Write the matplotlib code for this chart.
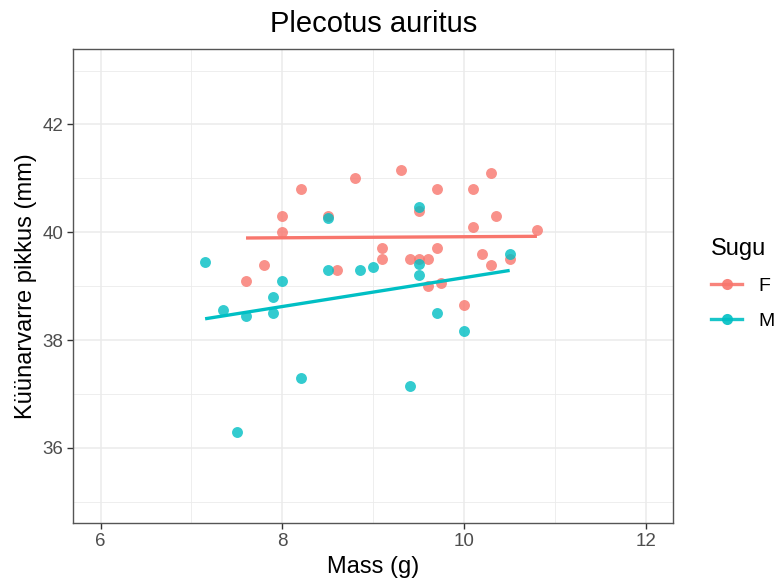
import numpy as np
import matplotlib
matplotlib.use("Agg")
from matplotlib import pyplot as plt
from matplotlib.lines import Line2D

plt.rcParams['font.family'] = ['Liberation Sans', 'DejaVu Sans']

# emased (F)
f_mass = [7.6, 7.8, 8.0, 8.0, 8.2, 8.5, 8.6, 8.8, 9.3, 10.3, 9.7, 10.1, 9.5, 10.35,
          10.1, 10.8, 9.1, 9.1, 9.7, 10.2, 10.5, 9.4, 9.5, 9.6, 10.3, 9.6, 9.75, 10.0]
f_arm = [39.1, 39.4, 40.3, 40.0, 40.8, 40.3, 39.3, 41.0, 41.15, 41.1, 40.8, 40.8, 40.4, 40.3,
         40.1, 40.05, 39.7, 39.5, 39.7, 39.6, 39.5, 39.5, 39.5, 39.5, 39.4, 39.0, 39.05, 38.65]
# isased (M)
m_mass = [7.15, 7.35, 7.5, 7.6, 7.9, 7.9, 8.0, 8.2, 8.5, 8.5, 8.85, 9.0, 9.4, 9.5,
          9.5, 9.5, 9.7, 10.0, 10.5]
m_arm = [39.45, 38.55, 36.3, 38.45, 38.8, 38.5, 39.1, 37.3, 40.27, 39.3, 39.3, 39.35, 37.15, 40.47,
         39.42, 39.2, 38.5, 38.17, 39.6]

groups = ['F', 'M']
colors = {'F': '#F8766D', 'M': '#00BFC4'}
data = {'F': (f_mass, f_arm), 'M': (m_mass, m_arm)}

W, H = 779, 580
fig = plt.figure(figsize=(W / 100, H / 100), dpi=100)
# paneel pikslites: x 73..673, y 49..523
ax = fig.add_axes([73.3 / W, 1 - 523.3 / H, 600 / W, 474.3 / H])

for g in groups:
    x = np.array(data[g][0])
    y = np.array(data[g][1])
    ax.scatter(x, y, s=62, color=colors[g], alpha=0.8, linewidths=0, zorder=3)
    k, b = np.polyfit(x, y, 1)
    xs = np.array([x.min(), x.max()])
    ax.plot(xs, k * xs + b, color=colors[g], lw=2.4, zorder=4, solid_capstyle='butt')

ax.set_xlim(5.7, 12.3)
ax.set_ylim(34.6, 43.4)
ax.set_xticks([6, 8, 10, 12])
ax.set_yticks([36, 38, 40, 42])
ax.set_xticks([7, 9, 11], minor=True)
ax.set_yticks([35, 37, 39, 41, 43], minor=True)
ax.grid(True, which='major', color='#EBEBEB', lw=1.1, zorder=0)
ax.grid(True, which='minor', color='#EBEBEB', lw=0.6, zorder=0)
ax.set_axisbelow(True)
ax.tick_params(which='major', direction='out', length=4.3, width=1.0, color='#333333',
               labelcolor='#4D4D4D', labelsize=13.5, pad=3)
ax.tick_params(which='minor', length=0)
for s in ax.spines.values():
    s.set_color('#555555')
    s.set_linewidth(1.0)

ax.set_xlabel('Mass (g)', fontsize=17, labelpad=4)
ax.set_ylabel('Küünarvarre pikkus (mm)', fontsize=17, labelpad=4)
ax.set_title('Plecotus auritus', fontsize=21, pad=12)

handles = [Line2D([0], [0], color=colors[g], lw=2.4, marker='o', markersize=8,
                  markeredgewidth=0, alpha=0.9) for g in groups]
leg = fig.legend(handles, groups, title='Sugu', loc='upper left',
                 bbox_to_anchor=(711 / W, 1 - 238 / H), frameon=False, fontsize=14,
                 title_fontsize=17, handlelength=1.6, handletextpad=0.85,
                 labelspacing=0.9, borderpad=0, borderaxespad=0)
leg._legend_box.align = 'left'

fig.savefig('out.png', dpi=100)
